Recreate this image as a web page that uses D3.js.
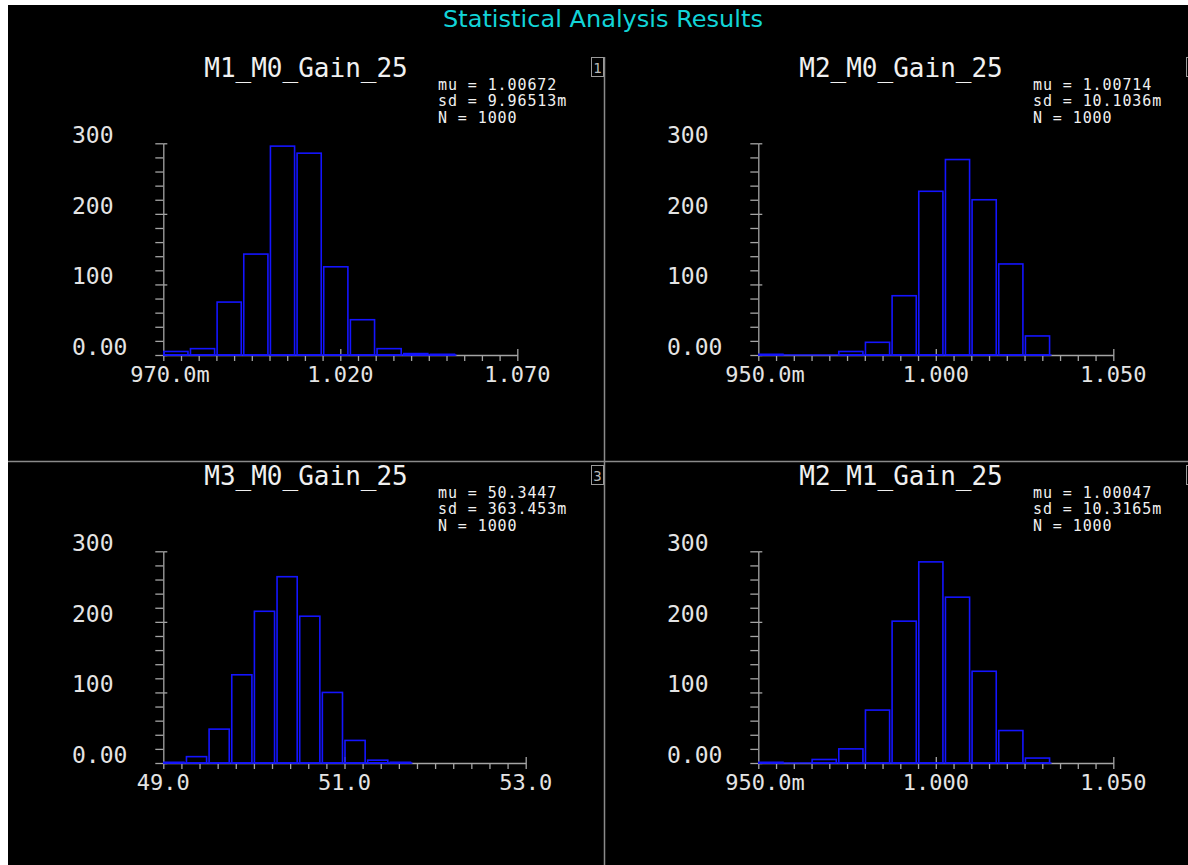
<!DOCTYPE html>
<html><head><meta charset="utf-8">
<script src="https://cdn.jsdelivr.net/npm/d3@7"></script>
<style>html,body{margin:0;padding:0;background:#000;overflow:hidden}</style>
</head><body>
<svg id="chart" width="1188" height="865"></svg>
<script>
// ---------------- data ----------------
const mainTitle = "Statistical Analysis Results";
const panelTitles = ["M1_M0_Gain_25", "M2_M0_Gain_25", "M3_M0_Gain_25", "M2_M1_Gain_25"];
const panelIndex = ["1", "2", "3", "4"];
const statMu = ["1.00672", "1.00714", "50.3447", "1.00047"];
const statSd = ["9.96513m", "10.1036m", "363.453m", "10.3165m"];
const statN = ["1000", "1000", "1000", "1000"];

const counts1 = [5, 9, 75, 143, 296, 286, 125, 50, 9, 2, 1];
const counts2 = [1, 0, 0, 5, 18, 84, 232, 277, 220, 129, 27];
const counts3 = [1, 9, 48, 125, 215, 264, 208, 100, 32, 4, 1];
const counts4 = [1, 0, 5, 20, 75, 201, 285, 235, 130, 46, 7];
const allCounts = [counts1, counts2, counts3, counts4];

const binStart = [0.970, 0.950, 49.0, 0.950];
const binWidth = [0.00753, 0.00751, 0.25, 0.00751];

const xDomains = [[0.970, 1.070], [0.950, 1.050], [49.0, 53.0], [0.950, 1.050]];
const xMajorTicks = [[0.970, 1.020, 1.070], [0.950, 1.000, 1.050], [49.0, 51.0, 53.0], [0.950, 1.000, 1.050]];
const xTickNumbers = [["970.0", "1.020", "1.070"], ["950.0", "1.000", "1.050"], ["49.0", "51.0", "53.0"], ["950.0", "1.000", "1.050"]];
const xTickSuffix = [["m", "", ""], ["m", "", ""], ["", "", ""], ["m", "", ""]];
const xMinorDivisions = 20;

const yDomain = [0, 300];
const yMajorTicks = [0, 100, 200, 300];
const yTickLabels = ["0.00", "100", "200", "300"];
const yMinorStep = 20;

// ---------------- layout / style ----------------
const W = 1188, H = 865;
const MONO = "'DejaVu Sans Mono', 'Liberation Mono', monospace";
const axisColor = "#a4a4a4";
const labelColor = "#e4e4e4";
const barColor = "#1414ff";
const origins = [[0, 0], [595, 0], [0, 408], [595, 408]];
const xRangeEnd = [517.3, 518.3, 525.7, 518.3];
const axisX = 163.3, axisY0 = 355, axisYTop = 143.3;

const svg = d3.select("#chart");
svg.append("rect").attr("width", W).attr("height", H).attr("fill", "#000");
svg.append("rect").attr("x", 0).attr("y", 0).attr("width", W).attr("height", 5).attr("fill", "#fff");
svg.append("rect").attr("x", 0).attr("y", 0).attr("width", 8).attr("height", H).attr("fill", "#fff");

// dividers
svg.append("line").attr("x1", 8).attr("x2", W).attr("y1", 461.5).attr("y2", 461.5)
  .attr("stroke", "#8a8a8a").attr("stroke-width", 1.5);
svg.append("line").attr("x1", 604.5).attr("x2", 604.5).attr("y1", 57).attr("y2", H)
  .attr("stroke", "#8a8a8a").attr("stroke-width", 1.5);

// main title
svg.append("text").attr("x", 603).attr("y", 26.5)
  .attr("text-anchor", "middle")
  .attr("font-family", "'DejaVu Sans', sans-serif").attr("font-size", 23)
  .attr("textLength", 320).attr("lengthAdjust", "spacingAndGlyphs")
  .attr("fill", "#12d4d8").text(mainTitle);

panelTitles.forEach((title, i) => {
  const [ox, oy] = origins[i];
  const g = svg.append("g").attr("transform", `translate(${ox},${oy})`);
  const x = d3.scaleLinear().domain(xDomains[i]).range([axisX, xRangeEnd[i]]);
  const y = d3.scaleLinear().domain(yDomain).range([axisY0, axisYTop]);

  // panel title
  g.append("text").attr("x", 306).attr("y", 77.3).attr("text-anchor", "middle")
    .attr("font-family", MONO).attr("font-size", 26).attr("fill", "#f0f0f0").text(title);

  // stats
  const stats = ["mu = " + statMu[i], "sd = " + statSd[i], "N = " + statN[i]];
  stats.forEach((s, k) => {
    g.append("text").attr("x", 438).attr("y", 89.5 + k * 16.7)
      .attr("font-family", MONO).attr("font-size", 15).attr("letter-spacing", 0.9)
      .attr("fill", "#f0f0f0").text(s);
  });

  // index box
  g.append("rect").attr("x", 591.5).attr("y", 57.5).attr("width", 12).attr("height", 19)
    .attr("fill", "none").attr("stroke", "#9a9a9a").attr("stroke-width", 1);
  g.append("text").attr("x", 597.5).attr("y", 72.5).attr("text-anchor", "middle")
    .attr("font-family", MONO).attr("font-size", 14).attr("fill", "#b8b8b8").text(panelIndex[i]);

  // y axis: minor ticks (left) with domain line
  const yMinor = d3.range(yDomain[0], yDomain[1] + 1, yMinorStep);
  const yAxisG = g.append("g").attr("transform", `translate(${axisX},0)`)
    .call(d3.axisLeft(y).tickValues(yMinor).tickSize(8).tickSizeOuter(0).tickFormat(""));
  const yMajG = g.append("g").attr("transform", `translate(${axisX},0)`)
    .call(d3.axisRight(y).tickValues(yMajorTicks).tickSize(4).tickSizeOuter(0).tickFormat(""));
  yMajG.select(".domain").remove();

  // x axis: minor ticks (down) with domain line
  const [d0, d1] = xDomains[i];
  const xMinor = d3.range(0, xMinorDivisions + 1).map(k => d0 + (d1 - d0) * k / xMinorDivisions);
  const xAxisG = g.append("g").attr("transform", `translate(0,${axisY0})`)
    .call(d3.axisBottom(x).tickValues(xMinor).tickSize(6).tickSizeOuter(0).tickFormat(""));
  const xMajG = g.append("g").attr("transform", `translate(0,${axisY0})`)
    .call(d3.axisTop(x).tickValues(xMajorTicks[i].slice(1)).tickSize(6).tickSizeOuter(0).tickFormat(""));
  xMajG.select(".domain").remove();

  [yAxisG, yMajG, xAxisG, xMajG].forEach(a => {
    a.selectAll("path, line").attr("stroke", axisColor).attr("stroke-width", 1.3);
  });

  // y labels (left aligned)
  yMajorTicks.forEach((v, k) => {
    g.append("text").attr("x", 72).attr("y", y(v))
      .attr("font-family", MONO).attr("font-size", 23).attr("fill", labelColor).text(yTickLabels[k]);
  });

  // x labels (numeric part centred on tick, suffix appended)
  xMajorTicks[i].forEach((v, k) => {
    const t = g.append("text").attr("y", axisY0 + 27)
      .attr("font-family", MONO).attr("font-size", 22).attr("fill", labelColor);
    const num = t.append("tspan").text(xTickNumbers[i][k]);
    t.append("tspan").text(xTickSuffix[i][k]);
    const len = num.node().getComputedTextLength();
    t.attr("x", x(v) - len / 2);
  });

  // histogram bars
  const counts = allCounts[i];
  const edges = counts.map((c, k) => binStart[i] + k * binWidth[i]);
  const lastEdge = binStart[i] + counts.length * binWidth[i];
  g.append("line").attr("x1", x(binStart[i])).attr("x2", x(lastEdge))
    .attr("y1", y(0)).attr("y2", y(0)).attr("stroke", barColor).attr("stroke-width", 1.6);
  counts.forEach((c, k) => {
    if (c <= 0) return;
    const x0 = x(edges[k]), x1 = x(edges[k] + binWidth[i]);
    g.append("rect").attr("class", "bar")
      .attr("x", x0 + 0.5).attr("width", x1 - x0 - 2.5)
      .attr("y", y(c)).attr("height", y(0) - y(c))
      .attr("fill", "none").attr("stroke", barColor).attr("stroke-width", 1.6);
  });
});
</script>
</body></html>
